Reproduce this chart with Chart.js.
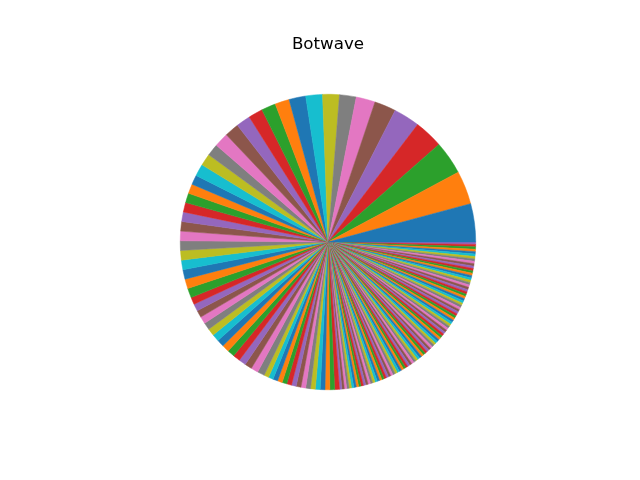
<!DOCTYPE html>
<html>
<head>
<meta charset="utf-8">
<script src="https://cdn.jsdelivr.net/npm/chart.js@4/dist/chart.umd.min.js"></script>
<style>
  html, body { margin: 0; padding: 0; background: #ffffff; }
  #wrap { width: 640px; height: 480px; }
</style>
</head>
<body>
<div id="wrap"><canvas id="c" width="640" height="480"></canvas></div>
<script>
const chartTitle = "Botwave";

// Slice values, in matplotlib order (largest first, counter-clockwise from 3 o'clock)
const sliceValues = [
  16, 14, 14, 12, 11, 9, 8, 7, 7, 7,
  7, 6, 6, 6, 6, 6, 6, 5, 5, 5,
  4, 4, 4, 4, 4, 4, 4, 4, 4, 4,
  4, 4, 4, 3, 3, 3, 3, 3, 3, 3,
  3, 3, 3, 3, 3, 3, 3, 3, 2, 2,
  2, 2, 2, 2, 2, 2, 2, 2, 2, 2,
  2, 2, 2, 2, 1, 1, 1, 1, 1, 1,
  1, 1, 1, 1, 1, 1, 1, 1, 1, 1,
  1, 1, 1, 1, 1, 1, 1, 1, 1, 1,
  1, 1, 1, 1, 1, 1, 1, 1, 1, 1,
  1, 1, 1, 1, 1, 1, 1, 1, 1, 1,
  1, 1, 1, 1, 1, 1, 1, 1, 1, 1,
  1, 1, 1, 1, 1, 1, 1, 1, 1, 1,
  1, 1, 1, 1, 1, 1, 1, 1, 1, 1,
  1, 1, 1, 1, 1, 1, 1, 1, 1, 1,
  1, 1, 1, 1, 1
];
const categories = sliceValues.map((v, i) => "Item " + (i + 1));

const palette = ["#1f77b4", "#ff7f0e", "#2ca02c", "#d62728", "#9467bd",
                 "#8c564b", "#e377c2", "#7f7f7f", "#bcbd22", "#17becf"];
const sliceColors = sliceValues.map((v, i) => palette[i % palette.length]);

// Chart.js draws clockwise; reverse so the result reads counter-clockwise from 3 o'clock
const revLabels = categories.slice().reverse();
const revValues = sliceValues.slice().reverse();
const revColors = sliceColors.slice().reverse();

new Chart(document.getElementById("c"), {
  type: "pie",
  data: {
    labels: revLabels,
    datasets: [{
      data: revValues,
      backgroundColor: revColors,
      borderColor: revColors,
      borderWidth: 0.5,
      hoverOffset: 0
    }]
  },
  options: {
    responsive: false,
    animation: false,
    rotation: 90,
    layout: { padding: { left: 180, right: 164, top: 0, bottom: 90 } },
    plugins: {
      legend: { display: false },
      tooltip: { enabled: false },
      title: {
        display: true,
        text: chartTitle,
        color: "#000000",
        font: { family: "DejaVu Sans", size: 16.7, weight: "normal", lineHeight: 1.2 },
        padding: { top: 35, bottom: 39 }
      }
    }
  }
});
</script>
</body>
</html>
